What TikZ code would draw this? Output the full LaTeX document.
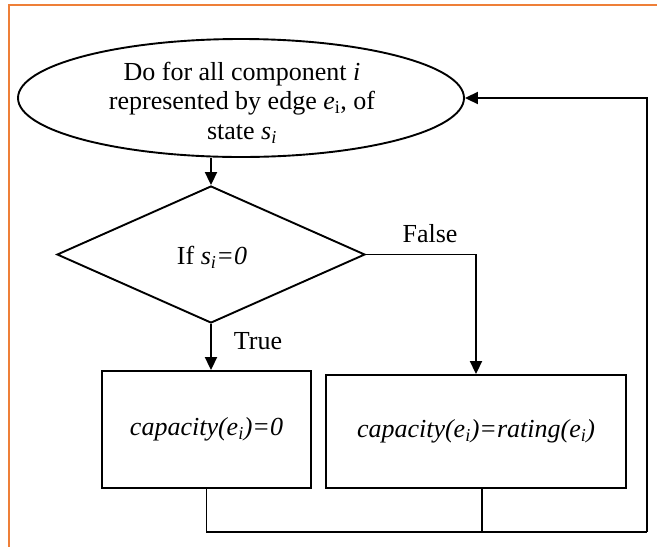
\documentclass[tikz,border=0pt]{standalone}
\usepackage{fontspec}
\setmainfont{Liberation Serif}
\usetikzlibrary{shapes.geometric,arrows.meta}
\definecolor{frameorange}{HTML}{EE7F38}
\begin{document}
\begin{tikzpicture}[x=1pt,y=-1pt,
  line/.style={line width=1.9pt, black},
  arr/.style={line width=1.9pt, black, -{Triangle[length=13pt,width=12pt]}},
  shapebox/.style={draw, line width=1.9pt, inner sep=0pt, align=center, font=\fontsize{26}{29.5}\selectfont},
  txt/.style={inner sep=0pt, align=center, font=\fontsize{26}{29.5}\selectfont},
  lbl/.style={font=\fontsize{26}{30}\selectfont, inner sep=0pt}]
\useasboundingbox (0,0) rectangle (657,547);
\draw[frameorange, line width=2.5pt] (9,547) -- (9,5) -- (657,5);
\node[shapebox, ellipse, minimum width=446pt, minimum height=118pt] (start) at (241,98) {};
\node[txt] (starttext) at (242,102.5)
  {Do for all component \textit{i}\\ represented by edge \textit{e}\textsubscript{i}, of\\ state \textit{s\textsubscript{i}}};
\node[shapebox, diamond, minimum width=308pt, minimum height=137pt] (dec) at (211,254.5) {};
\node[txt] (dectext) at (212,257) {If \textit{s\textsubscript{i}=0}};
\node[shapebox, rectangle, minimum width=209pt, minimum height=117pt] (lb) at (206.5,429.5)
  {\textit{capacity(e\textsubscript{i})=0}};
\node[shapebox, rectangle, minimum width=300pt, minimum height=113pt] (rb) at (476,431.5)
  {\textit{capacity(e\textsubscript{i})=rating(e\textsubscript{i})}};
\node[lbl] (truelbl) at (258,341) {True};
\node[lbl] (falselbl) at (430,234) {False};
\coordinate (corner) at (647,532);
\draw[arr] (dec.north |- start.south) -- (dec.north);
\draw[arr] (dec.south) -- (dec.south |- lb.north);
\draw[arr] (dec.east) -| (rb.north);
\draw[line] (lb.south) -- (lb.south |- corner) -- (corner);
\draw[line] ([xshift=6pt]rb.south) -- ([xshift=6pt]rb.south |- corner);
\draw[arr] (corner) -- (corner |- start.east) -- (start.east);
\end{tikzpicture}
\end{document}
